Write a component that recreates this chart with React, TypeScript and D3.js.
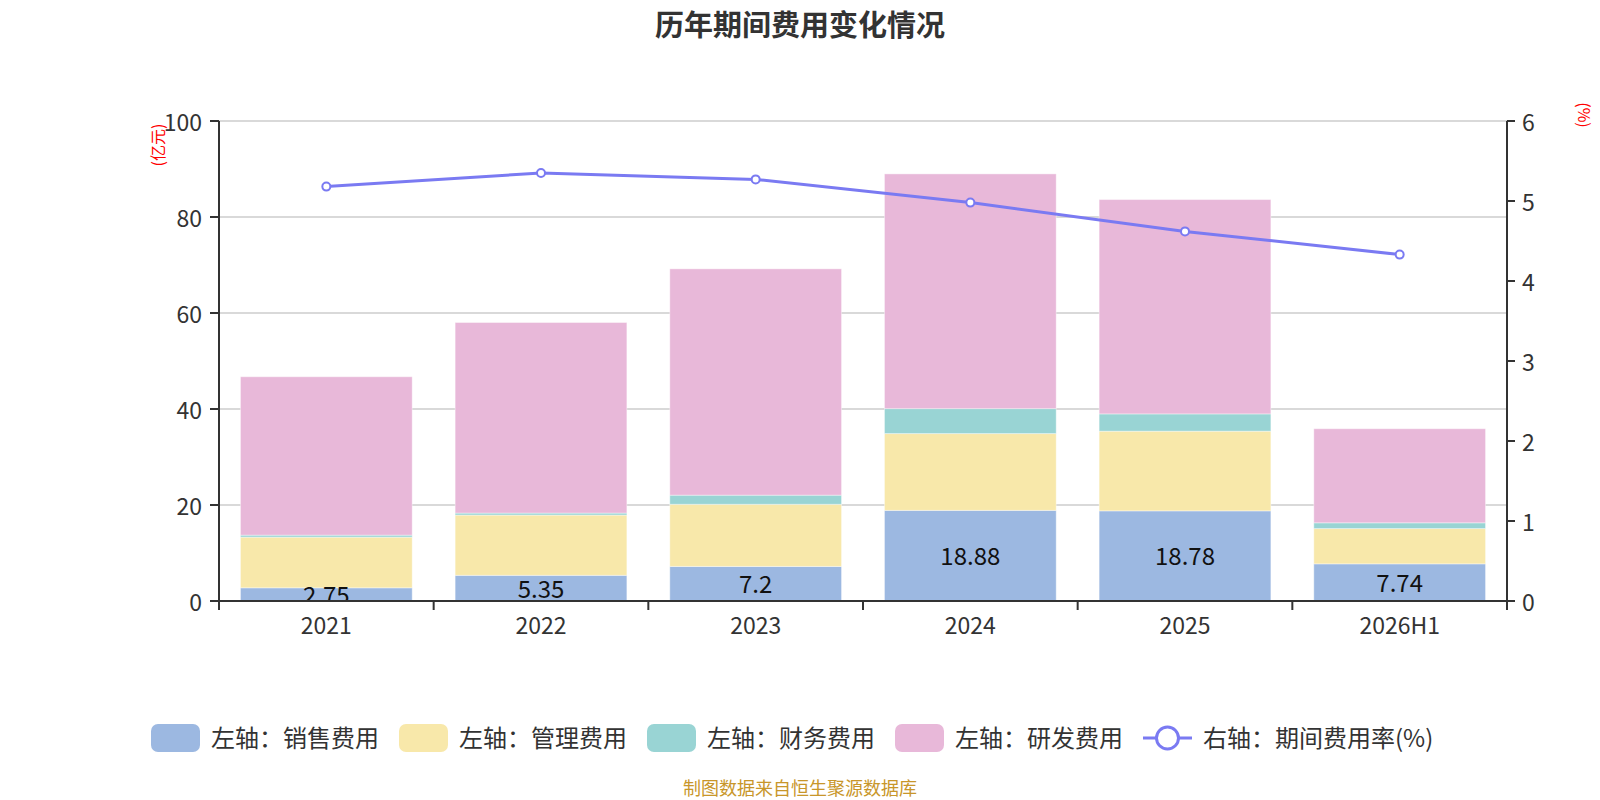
import React from "react";
import * as d3 from "d3";

const categories = ["2021", "2022", "2023", "2024", "2025", "2026H1"];
const salesExpense = [2.75, 5.35, 7.2, 18.88, 18.78, 7.74];
const adminExpense = [10.55, 12.55, 12.95, 16.0, 16.6, 7.35];
const financeExpense = [0.42, 0.42, 1.9, 5.2, 3.6, 1.2];
const rdExpense = [33.0, 39.7, 47.15, 48.9, 44.65, 19.6];
const expenseRate = [5.18, 5.35, 5.27, 4.98, 4.62, 4.33];
const leftTicks = [0, 20, 40, 60, 80, 100];
const rightTicks = [0, 1, 2, 3, 4, 5, 6];

const seriesNames = ["左轴：销售费用", "左轴：管理费用", "左轴：财务费用", "左轴：研发费用"];
const lineName = "右轴：期间费用率(%)";
const colors = ["#9cb8e1", "#f8e8aa", "#99d4d4", "#e8b8d9"];
const lineColor = "#7a7af2";
const FONT = '"Noto Sans CJK SC", "Noto Sans", sans-serif';

const W = 1600;
const H = 800;
const L = 219, R = 1507, T = 121, B = 601;

function measure(text: string, size: number) {
  const c = document.createElement("canvas").getContext("2d");
  if (!c) return text.length * size;
  c.font = `${size}px ${FONT}`;
  return c.measureText(text).width;
}

export default function App() {
  const x = d3.scaleBand<string>().domain(categories).range([L, R]).paddingInner(0.2).paddingOuter(0.1);
  const y = d3.scaleLinear().domain([0, 100]).range([B, T]);
  const y2 = d3.scaleLinear().domain([0, 6]).range([B, T]);

  const rows = categories.map((c, i) => ({
    cat: c,
    s0: salesExpense[i],
    s1: adminExpense[i],
    s2: financeExpense[i],
    s3: rdExpense[i],
  }));
  const stack = d3.stack<any>().keys(["s0", "s1", "s2", "s3"])(rows);

  const line = d3
    .line<number>()
    .x((_, i) => (x(categories[i]) as number) + x.bandwidth() / 2)
    .y((d) => y2(d));

  const step = x.step();
  const boundaries = d3.range(categories.length + 1).map((i) => L + i * step);

  // legend layout
  const legendItems = [...seriesNames, lineName];
  let cx = 151;
  const legendPos = legendItems.map((name) => {
    const w = measure(name, 24);
    const pos = { x: cx, tx: cx + 60, name };
    cx = cx + 60 + w + 20;
    return pos;
  });

  return (
    <svg
      width={W}
      height={H}
      style={{ position: "absolute", left: 0, top: 0, background: "#fff" }}
      fontFamily={FONT}
    >
      <defs>
        <clipPath id="plotClip">
          <rect x={L} y={T - 20} width={R - L} height={B - T + 20} />
        </clipPath>
      </defs>
      <text x={800} y={36} textAnchor="middle" fontSize={29} fontWeight="bold" fill="#333">
        历年期间费用变化情况
      </text>

      {/* gridlines */}
      {leftTicks.map((t) => (
        <line key={"g" + t} x1={L} x2={R} y1={y(t)} y2={y(t)} stroke="#cccccc" strokeWidth={1.5} />
      ))}

      {/* bars */}
      {stack.map((layer, li) =>
        layer.map((d, i) => (
          <rect
            key={li + "-" + i}
            x={x(categories[i])}
            width={x.bandwidth()}
            y={y(d[1])}
            height={y(d[0]) - y(d[1])}
            fill={colors[li]}
            stroke="#ffffff"
            strokeOpacity={0.4}
            strokeWidth={1}
          />
        ))
      )}

      {/* bar labels for sales */}
      <g clipPath="url(#plotClip)">
        {stack[0].map((d, i) => (
          <text
            key={"lb" + i}
            x={(x(categories[i]) as number) + x.bandwidth() / 2}
            y={(y(d[0]) + y(d[1])) / 2 - 1}
            textAnchor="middle"
            dominantBaseline="central"
            fontSize={24}
            fill="#111"
          >
            {salesExpense[i]}
          </text>
        ))}
      </g>

      {/* axes */}
      <line x1={L} x2={L} y1={T} y2={B} stroke="#333" strokeWidth={2} />
      <line x1={R} x2={R} y1={T} y2={B} stroke="#333" strokeWidth={2} />
      <line x1={L - 9} x2={R + 8} y1={B} y2={B} stroke="#333" strokeWidth={2} />
      {leftTicks.map((t) => (
        <g key={"lt" + t}>
          <line x1={L - 9} x2={L} y1={y(t)} y2={y(t)} stroke="#333" strokeWidth={2} />
          <text x={202} y={y(t)} textAnchor="end" dominantBaseline="central" fontSize={23} fill="#333">
            {t}
          </text>
        </g>
      ))}
      {rightTicks.map((t) => (
        <g key={"rt" + t}>
          <line x1={R} x2={R + 8} y1={y2(t)} y2={y2(t)} stroke="#333" strokeWidth={2} />
          <text x={1522} y={y2(t)} textAnchor="start" dominantBaseline="central" fontSize={23} fill="#333">
            {t}
          </text>
        </g>
      ))}
      {boundaries.map((bx, i) => (
        <line key={"bt" + i} x1={bx} x2={bx} y1={B} y2={B + 9} stroke="#333" strokeWidth={2} />
      ))}
      {categories.map((c) => (
        <text key={"xl" + c} x={(x(c) as number) + x.bandwidth() / 2} y={634} textAnchor="middle" fontSize={23} fill="#333">
          {c}
        </text>
      ))}

      {/* axis names */}
      <text
        transform={`translate(157,145) rotate(-90)`}
        textAnchor="middle"
        dominantBaseline="central"
        fontSize={16}
        fill="#ff0000"
      >
        (亿元)
      </text>
      <text
        transform={`translate(1585,115) rotate(90)`}
        textAnchor="middle"
        dominantBaseline="central"
        fontSize={16}
        fill="#ff0000"
      >
        (%)
      </text>

      {/* line series */}
      <path d={line(expenseRate) || ""} fill="none" stroke={lineColor} strokeWidth={3} />
      {expenseRate.map((v, i) => (
        <circle
          key={"pt" + i}
          cx={(x(categories[i]) as number) + x.bandwidth() / 2}
          cy={y2(v)}
          r={4}
          fill="#fff"
          stroke={lineColor}
          strokeWidth={2}
        />
      ))}

      {/* legend */}
      {legendPos.map((p, i) => (
        <g key={"lg" + i}>
          {i < 4 ? (
            <rect x={p.x} y={724} width={49} height={28} rx={7} fill={colors[i]} />
          ) : (
            <g>
              <line x1={p.x} x2={p.x + 49} y1={738} y2={738} stroke={lineColor} strokeWidth={3} />
              <circle cx={p.x + 24.5} cy={738} r={11} fill="#fff" stroke={lineColor} strokeWidth={3} />
            </g>
          )}
          <text x={p.tx} y={736} dominantBaseline="central" fontSize={24} fill="#333">
            {p.name}
          </text>
        </g>
      ))}

      <text x={800} y={795} textAnchor="middle" fontSize={18} fill="#c8962a">
        制图数据来自恒生聚源数据库
      </text>
    </svg>
  );
}
